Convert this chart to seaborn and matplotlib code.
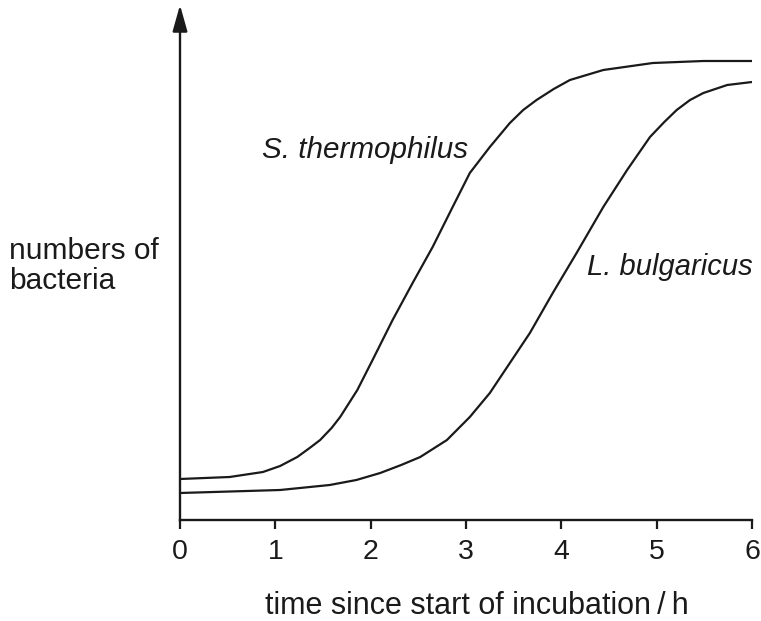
import matplotlib
matplotlib.use("Agg")
import matplotlib.pyplot as plt
import seaborn as sns
import pandas as pd

# Data (arbitrary units of bacterial numbers)
time_s = [0.00, 0.52, 0.87, 1.05, 1.23, 1.36, 1.47, 1.59, 1.68, 1.86, 2.02,
          2.23, 2.44, 2.65, 2.86, 3.04, 3.25, 3.46, 3.60, 3.74, 3.92, 4.09,
          4.44, 4.96, 5.49, 6.00]
num_s = [41, 43, 48, 54, 63, 72, 80, 92, 103, 130, 160,
         200, 237, 273, 313, 347, 373, 397, 410, 420, 431, 440,
         450, 457, 459, 459]
time_l = [0.00, 1.05, 1.57, 1.85, 2.10, 2.32, 2.52, 2.80, 3.04, 3.25, 3.46,
          3.67, 3.91, 4.16, 4.44, 4.69, 4.93, 5.08, 5.21, 5.35, 5.49, 5.74,
          6.00]
num_l = [27, 30, 35, 40, 47, 55, 63, 80, 103, 127, 157,
         187, 227, 267, 313, 350, 383, 398, 410, 420, 427, 435,
         438]
x_ticks = [0, 1, 2, 3, 4, 5, 6]
label_s = "S. thermophilus"
label_l = "L. bulgaricus"
x_label = "time since start of incubation\u2009/\u2009h"
y_label = "numbers of\nbacteria"

sns.set_style("ticks")
plt.rcParams["font.family"] = ["Liberation Sans", "DejaVu Sans"]

df = pd.concat([
    pd.DataFrame({"time": time_s, "num": num_s, "species": label_s}),
    pd.DataFrame({"time": time_l, "num": num_l, "species": label_l}),
])

W, H = 761, 621
fig = plt.figure(figsize=(W / 100, H / 100), dpi=100)
ax = fig.add_axes([180 / W, (H - 520) / H, (752 - 180) / W, (520 - 5) / H])

sns.lineplot(data=df, x="time", y="num", hue="species",
             palette={label_s: "#1a1a1a", label_l: "#1a1a1a"},
             linewidth=1.6, legend=False, ax=ax, estimator=None, sort=True)
for ln in ax.lines:
    ln.set_solid_joinstyle("round")
    ln.set_solid_capstyle("butt")

ax.set_xlim(0, 6)
ax.set_ylim(0, 515)
ax.set_xticks(x_ticks)
ax.set_xticklabels([str(t) for t in x_ticks])
ax.set_yticks([])
ax.tick_params(axis="x", direction="out", length=6.5, width=1.6, pad=7.5,
               labelsize=20.5, colors="#1a1a1a")
for side in ["top", "right"]:
    ax.spines[side].set_visible(False)
for side in ["left", "bottom"]:
    ax.spines[side].set_linewidth(1.7)
    ax.spines[side].set_color("#1a1a1a")
ax.spines["left"].set_bounds(0, 495)
ax.set_xlabel("")
ax.set_ylabel("")

ax.annotate("", xy=(0, 515), xytext=(0, 490),
            arrowprops=dict(arrowstyle="-|>,head_length=1.6,head_width=0.45",
                            color="#1a1a1a", lw=1.7, shrinkA=0, shrinkB=0),
            annotation_clip=False)

ax.text(3.02, 370, label_s, ha="right", va="center", fontsize=21.3,
        style="italic", color="#1a1a1a")
ax.text(4.27, 253, label_l, ha="left", va="center", fontsize=21,
        style="italic", color="#1a1a1a")

fig.text(477 / W, 1 - 606 / H, x_label, ha="center", va="center",
         fontsize=22, color="#1a1a1a")
fig.text(9 / W, 1 - 266 / H, y_label, ha="left", va="center",
         fontsize=21.5, color="#1a1a1a", linespacing=1.05)

fig.savefig("out.png", dpi=100)
